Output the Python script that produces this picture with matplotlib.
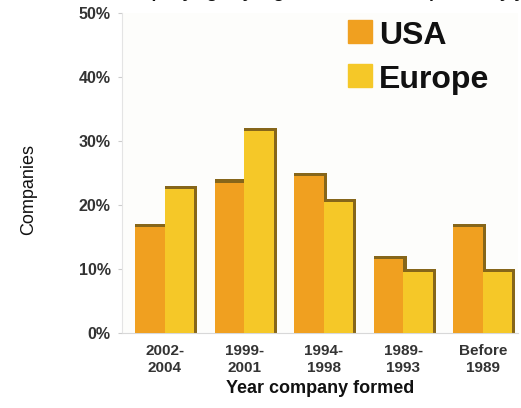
import numpy as np
import matplotlib
matplotlib.use('Agg')
import matplotlib.pyplot as plt
from matplotlib import font_manager
from matplotlib.patches import Rectangle

### Data
periods = ['2002-\n2004', '1999-\n2001', '1994-\n1998', '1989-\n1993', 'Before\n1989']
usa = [17, 24, 25, 12, 17]
europe = [23, 32, 21, 10, 10]
yticks = [0, 10, 20, 30, 40, 50]

### Fonts
names = {f.name for f in font_manager.fontManager.ttflist}
narrow = 'Liberation Sans Narrow' if 'Liberation Sans Narrow' in names else 'Liberation Sans'
plt.rcParams['font.family'] = ['Liberation Sans', 'DejaVu Sans']

c_usa = '#f0a020'
c_eur = '#f5c828'
c_side = '#86661a'

fig = plt.figure(figsize=(5.21, 4.08), dpi=100, facecolor='white')
ax = fig.add_axes([0.234, 0.184, 0.76, 0.784])
ax.set_facecolor('#fdfdfb')

x = np.arange(len(periods))
w = 0.37
dx = 0.04   # depth of the side face
dz = 0.5    # depth of the top face

### 3D-looking bars: dark block behind, coloured face in front
for vals, off, col in [(usa, -w / 2, c_usa), (europe, w / 2, c_eur)]:
    for xi, v in zip(x, vals):
        ax.bar(xi + off - w / 2, v, width=w + dx, align='edge',
               color=c_side, linewidth=0, zorder=2)
        ax.bar(xi + off - w / 2, v - dz, width=w, align='edge',
               color=col, linewidth=0, zorder=3)

ax.set_xlim(-0.54, 4.44)
ax.set_ylim(0, 50)
ax.set_yticks(yticks)
ax.set_yticklabels(['%d%%' % t for t in yticks], fontsize=11.5,
                   fontweight='bold', color='#333333')
ax.set_xticks(x)
ax.set_xticklabels(periods, fontsize=11, fontweight='bold', color='#333333',
                   linespacing=1.3)
ax.tick_params(axis='y', length=3, color='#cccccc', pad=5)
ax.tick_params(axis='x', length=0, pad=8)

for s in ['top', 'right']:
    ax.spines[s].set_visible(False)
ax.spines['left'].set_color('#e4e4e4')
ax.spines['bottom'].set_color('#d8d8d8')

ax.set_xlabel('Year company formed', fontsize=13, fontweight='bold',
              color='#111111', labelpad=3)
fig.text(0.055, 0.535, 'Companies', rotation=90, fontsize=13,
         family=narrow, color='#111111', ha='center', va='center')

### Legend drawn by hand
for (label, col), ytop in zip([('USA', c_usa), ('Europe', c_eur)], [0.951, 0.843]):
    fig.patches.append(Rectangle((0.668, ytop - 0.056), 0.046, 0.056,
                                 transform=fig.transFigure, color=col))
    fig.text(0.727, ytop - 0.058, label, fontsize=23, fontweight='bold',
             color='#111111', ha='left', va='baseline')

### Title (runs off the top edge)
fig.text(0.636, 1.006, 'Company age by region: share of companies by year',
         fontsize=12.5, fontweight='bold', color='#111111',
         ha='center', va='baseline')

plt.savefig('out.png', dpi=100, facecolor='white')
